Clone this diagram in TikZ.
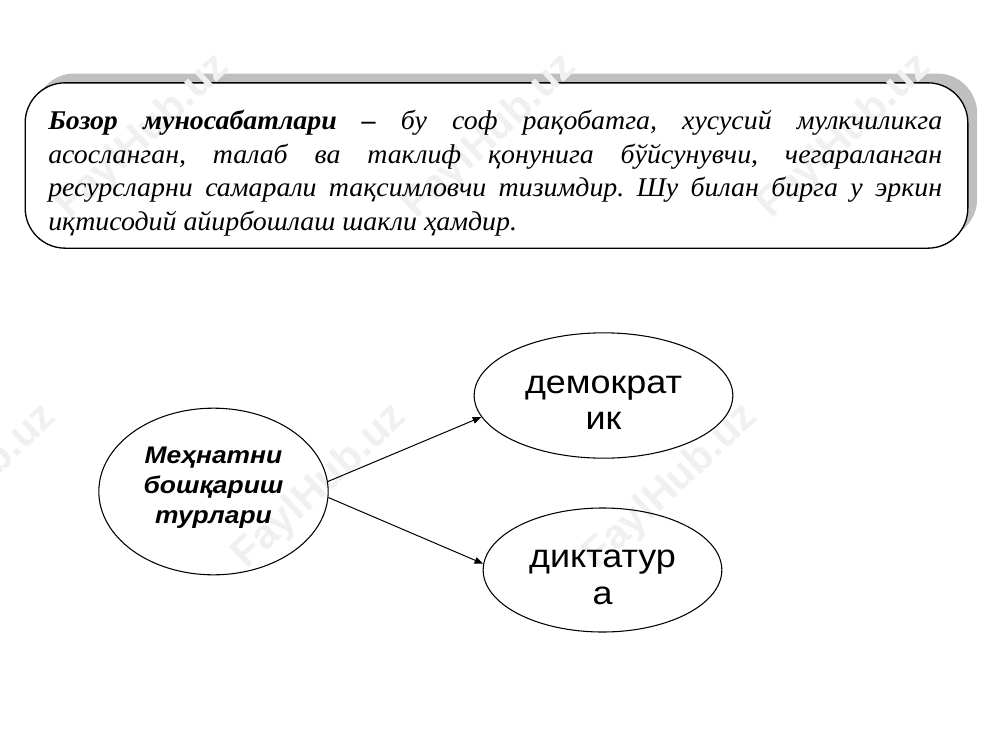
\documentclass[tikz,border=0pt]{standalone}
\usepackage{fontspec}
\setmainfont{Liberation Serif}[FakeStretch=1.03]
\newfontfamily\arialfont{Liberation Sans}
\newfontfamily\arialwide{Liberation Sans}[FakeStretch=1.1]
\usetikzlibrary{shapes.geometric,shadows,arrows.meta}
\newlength\deflinew
\setlength\deflinew{670.5pt}
\newcommand\jline[1]{\hbox to \deflinew{\frenchspacing\spaceskip=0pt\xspaceskip=0pt #1}}
\tikzset{
  defbox/.style={draw=black, line width=1pt, fill=white, rounded corners=30pt,
    minimum width=707pt, minimum height=124pt, inner sep=0pt,
    general shadow={shadow xshift=7pt, shadow yshift=7pt, fill=gray!50, draw=none}},
  deftext/.style={anchor=base west, inner sep=0pt, text width=670.5pt, align=justify,
    font=\fontsize{20.3pt}{25.3pt}\selectfont\itshape},
  oval/.style={ellipse, draw=black, line width=0.8pt, inner sep=0pt, align=center},
  maintext/.style={font=\arialwide\bfseries\itshape\fontsize{18pt}{22.5pt}\selectfont},
  subtext/.style={font=\arialwide\fontsize{24.5pt}{27.5pt}\selectfont},
  link/.style={line width=0.75pt, -{Triangle[length=6.5pt,width=5pt]}},
  wmark/.style={font=\arialfont\bfseries\fontsize{31pt}{31pt}\selectfont, text=gray!12, rotate=43, inner sep=0pt}
}
\begin{document}
\begin{tikzpicture}[x=0.75pt, y=-0.75pt]
\useasboundingbox (0,0) rectangle (1000,750);
\node[defbox] (box) at (496.5,165.5) {};
% watermarks
\node[wmark] (w1) at (143,137) {FaylHub.uz};
\node[wmark] (w2) at (490,137) {FaylHub.uz};
\node[wmark] (w3) at (845,137) {FaylHub.uz};
\node[wmark] (w4) at (-30,487) {FaylHub.uz};
\node[wmark] (w5) at (320,487) {FaylHub.uz};
\node[wmark] (w6) at (671,487) {FaylHub.uz};
% definition text
\node[deftext] (def) at (48,129.5) {%
\jline{\textbf{Бозор муносабатлари –} бу соф рақобатга, хусусий мулкчиликга}\\
\jline{асосланган, талаб ва таклиф қонунига бўйсунувчи, чегараланган}\\
\jline{ресурсларни самарали тақсимловчи тизимдир. Шу билан бирга у эркин}\\
иқтисодий айирбошлаш шакли ҳамдир.};
% ellipses
\node[oval, maintext, minimum width=172pt, minimum height=125pt] (l) at (213.5,491.5)
  {Меҳнатни\\бошқариш\\турлари\rule[-9pt]{0pt}{9pt}};
\node[oval, subtext, minimum width=194pt, minimum height=94pt] (t) at (603.5,395.5)
  {\rule{0pt}{24pt}демократ\\ик};
\node[oval, subtext, minimum width=179pt, minimum height=93pt] (b) at (602.5,570)
  {\rule{0pt}{24pt}диктатур\\а};
% connectors
\draw[link] (l.5) -- (t.190);
\draw[link] (l.-3) -- (b.177);
\end{tikzpicture}
\end{document}
